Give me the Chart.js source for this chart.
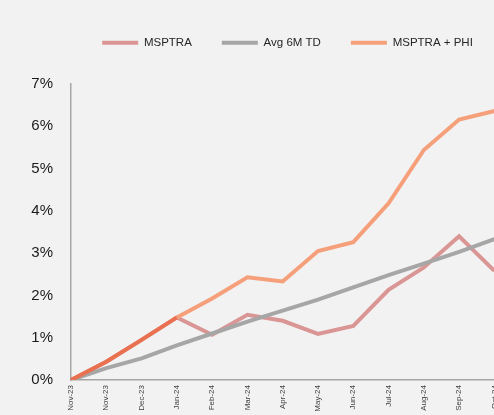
<!DOCTYPE html>
<html>
<head>
<meta charset="utf-8">
<script src="https://cdn.jsdelivr.net/npm/chart.js@4/dist/chart.umd.min.js"></script>
<style>
html,body{margin:0;padding:0;overflow:hidden;background:#f2f2f2;width:494px;height:415px;}
canvas{display:block;}
</style>
</head>
<body>
<canvas id="c" width="509" height="415"></canvas>
<script>
const categories = ['Nov-23','Nov-23','Dec-23','Jan-24','Feb-24','Mar-24','Apr-24','May-24','Jun-24','Jul-24','Aug-24','Sep-24','Oct-24'];
const msptra    = [0, 0.43, 0.95, 1.48, 1.07, 1.54, 1.40, 1.09, 1.28, 2.13, 2.66, 3.40, 2.58];
const avg6mTD   = [0, 0.28, 0.51, 0.82, 1.10, 1.38, 1.64, 1.90, 2.19, 2.48, 2.75, 3.03, 3.33];
const msptraPhi = [0, 0.43, 0.95, 1.48, 1.93, 2.43, 2.33, 3.05, 3.26, 4.18, 5.44, 6.16, 6.36];
const yTicks = [0, 1, 2, 3, 4, 5, 6, 7];

const FONT = '"Liberation Sans", Arial, sans-serif';

const legendPatch = {
  id: 'legendPatch',
  beforeLayout(chart) {
    const lg = chart.legend;
    if (lg && !lg._patched) {
      const f = lg.fit;
      lg.fit = function () { f.call(this); this.height = 77; };
      lg._patched = true;
    }
  },
  afterLayout(chart) {
    const lg = chart.legend;
    if (lg) { lg.left += 33; lg.right += 33; }
  }
};

new Chart(document.getElementById('c'), {
  type: 'line',
  data: {
    labels: categories,
    datasets: [
      { label: 'MSPTRA', data: msptra, borderColor: '#da9694', backgroundColor: '#da9694', borderWidth: 4, pointRadius: 0, tension: 0, order: 3 },
      { label: 'Avg 6M TD', data: avg6mTD, borderColor: '#a6a6a6', backgroundColor: '#a6a6a6', borderWidth: 4, pointRadius: 0, tension: 0, order: 2 },
      { label: 'MSPTRA + PHI', data: msptraPhi, borderColor: '#f5a07b', backgroundColor: '#f5a07b', borderWidth: 4, pointRadius: 0, tension: 0, order: 1,
        segment: { borderColor: c => c.p0DataIndex < 3 ? '#e9714f' : undefined } }
    ]
  },
  options: {
    responsive: false,
    animation: false,
    layout: { padding: { top: 7, left: 0, right: 0, bottom: 0 } },
    plugins: {
      tooltip: { enabled: false },
      legend: {
        position: 'top',
        align: 'center',
        labels: {
          boxWidth: 36,
          boxHeight: 4,
          padding: 30,
          color: '#262626',
          font: { family: FONT, size: 11.5 },
          sort: (a, b) => a.datasetIndex - b.datasetIndex,
          generateLabels: (chart) => {
            const items = Chart.defaults.plugins.legend.labels.generateLabels(chart);
            items.forEach(it => { it.lineWidth = 0; it.fillStyle = it.strokeStyle; });
            return items;
          }
        }
      }
    },
    scales: {
      x: {
        grid: { display: false, drawTicks: false },
        border: { display: true, color: '#a6a6a6', width: 1.5 },
        afterFit: s => { s.height = 35; },
        ticks: {
          autoSkip: false,
          maxRotation: 90,
          minRotation: 90,
          padding: 5,
          color: '#404040',
          font: { family: FONT, size: 8 }
        }
      },
      y: {
        min: 0,
        max: 7,
        afterFit: s => { s.width = 71; },
        afterBuildTicks: s => { s.ticks = yTicks.map(v => ({ value: v })); },
        grid: { display: false, drawTicks: false },
        border: { display: true, color: '#a6a6a6', width: 1.5 },
        ticks: {
          padding: 18,
          color: '#1a1a1a',
          font: { family: FONT, size: 15 },
          callback: v => v + '%'
        }
      }
    }
  },
  plugins: [legendPatch]
});
</script>
</body>
</html>
